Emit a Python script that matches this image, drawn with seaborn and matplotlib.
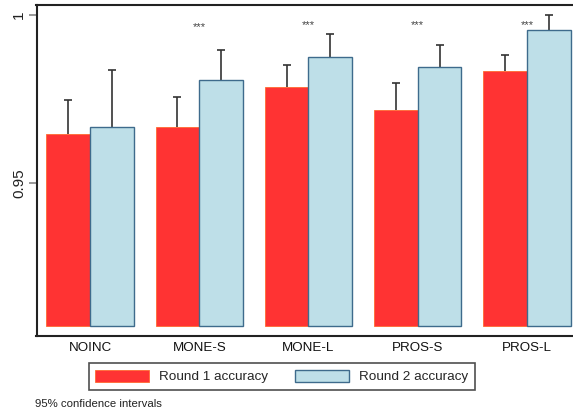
import matplotlib
matplotlib.use("Agg")
import matplotlib.pyplot as plt
import matplotlib.patches as mpatches
import seaborn as sns
import pandas as pd
import numpy as np

categories = ["NOINC", "MONE-S", "MONE-L", "PROS-S", "PROS-L"]
round1 = [0.9646, 0.9667, 0.9786, 0.9719, 0.9835]
round2 = [0.9667, 0.9806, 0.9874, 0.9845, 0.9957]
round1_ci_top = [0.9746, 0.9756, 0.9850, 0.9799, 0.9880]
round2_ci_top = [0.9837, 0.9895, 0.9943, 0.9912, 1.0001]
stars = ["", "***", "***", "***", "***"]
series = ["Round 1 accuracy", "Round 2 accuracy"]
BASE = 0.9074

sns.set_theme(style="white")
plt.rcParams["font.family"] = ["Liberation Sans", "DejaVu Sans"]

df = pd.DataFrame({
    "cat": categories * 2,
    "val": round1 + round2,
    "series": [series[0]] * 5 + [series[1]] * 5,
})

fig = plt.figure(figsize=(5.73, 4.16), dpi=100)
ax = fig.add_axes([36.5 / 573, 1 - 336 / 416, (580.5 - 36.5) / 573, (336 - 5) / 416])

red = "#FF3333"
blue = "#BEDFE8"
sns.barplot(data=df, x="cat", y="val", hue="series", order=categories,
            hue_order=series, palette=[red, blue], errorbar=None,
            width=0.8, ax=ax, legend=False, saturation=1, zorder=2)

edges = ["#FF6A30", "#3E6B8C"]
tops = [round1_ci_top, round2_ci_top]
bar_containers = list(ax.containers)
for ci, cont in enumerate(bar_containers):
    xs = []
    vals = []
    for p in cont.patches:
        h = p.get_height()
        p.set_y(BASE)
        p.set_height(h - BASE)
        p.set_edgecolor(edges[ci])
        p.set_linewidth(1.0 if ci == 1 else 0.6)
        xs.append(p.get_x() + p.get_width() / 2)
        vals.append(h)
    vals = np.array(vals)
    upper = np.array(tops[ci]) - vals
    eb = ax.errorbar(xs, vals, yerr=[np.zeros_like(upper), upper], fmt="none",
                     ecolor="#333333", elinewidth=1.2, capsize=2.9,
                     capthick=1.2, zorder=1)
    caps = eb.lines[1]
    if len(caps) >= 1:
        caps[0].set_visible(False)

for i, s in enumerate(stars):
    if s:
        ax.text(i, 0.9969 if i != 1 else 0.9964, s, ha="center", va="center",
                fontsize=8, color="#444444")

ax.set_ylim(0.9045, 1.003)
ax.set_xlim(-0.49, 4.49)
ax.set_yticks([0.95, 1.0])
ax.set_yticklabels(["0.95", "1"], rotation=90, va="center", fontsize=11)
ax.tick_params(axis="y", length=6, width=1.2, color="#888888", left=True,
               pad=1.5, labelcolor="#222222")
ax.tick_params(axis="x", length=0, pad=4, labelsize=9.6, labelcolor="#111111")
ax.set_xlabel("")
ax.set_ylabel("")
for sp in ["left", "top", "bottom"]:
    ax.spines[sp].set_color("#222222")
    ax.spines[sp].set_linewidth(1.5)
ax.spines["right"].set_visible(False)

handles = [mpatches.Patch(facecolor=red, edgecolor=edges[0], linewidth=0.6),
           mpatches.Patch(facecolor=blue, edgecolor=edges[1], linewidth=1.0)]
leg = fig.legend(handles, series, loc="center", ncol=2,
                 bbox_to_anchor=(282 / 573, 1 - 376.5 / 416),
                 fontsize=9.7, handlelength=4.0, handleheight=1.05,
                 columnspacing=2.0, handletextpad=0.75, frameon=True,
                 fancybox=False, borderpad=0.5, borderaxespad=0)
leg.get_frame().set_edgecolor("#222222")
leg.get_frame().set_linewidth(1.2)

fig.text(35 / 573, 1 - 404 / 416, "95% confidence intervals", ha="left",
         va="center", fontsize=8.2, color="#222222")

fig.savefig("out.png", dpi=100)
